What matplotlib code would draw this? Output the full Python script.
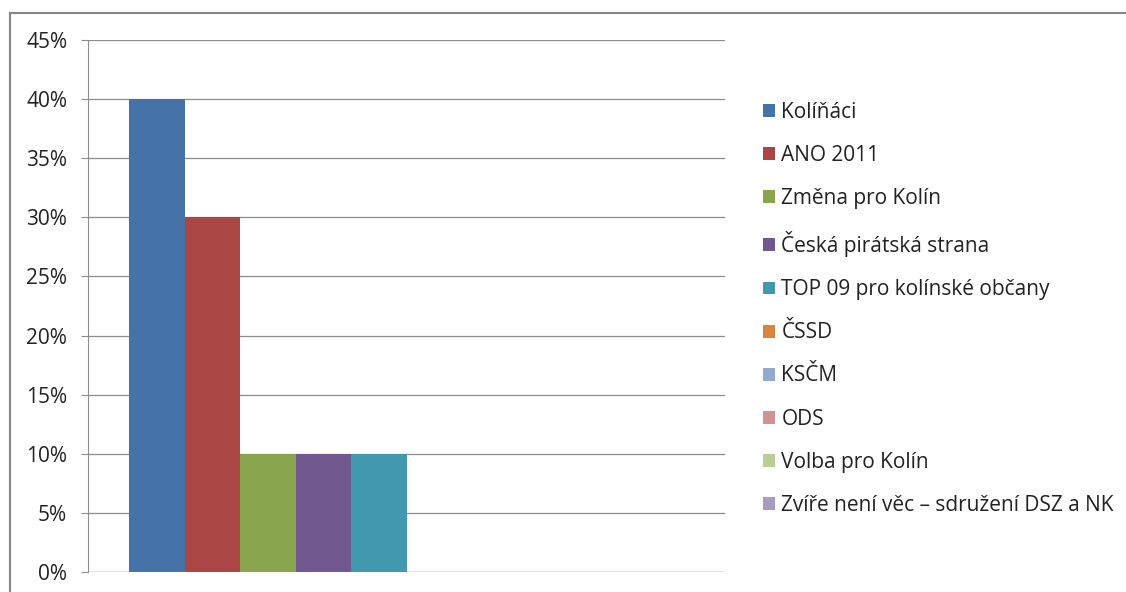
import matplotlib.pyplot as plt
from matplotlib.patches import Rectangle
from matplotlib.ticker import PercentFormatter

plt.rcParams['font.family'] = ['Open Sans', 'DejaVu Sans']

# data (share of seats/votes)
parties = ['Kolíňáci', 'ANO 2011', 'Změna pro Kolín', 'Česká pirátská strana',
           'TOP 09 pro kolínské občany', 'ČSSD', 'KSČM', 'ODS',
           'Volba pro Kolín', 'Zvíře není věc – sdružení DSZ a NK']
shares = [40, 30, 10, 10, 10, 0, 0, 0, 0, 0]
colors = ['#4572A7', '#AA4643', '#89A54E', '#71588F', '#4198AF',
          '#DB843D', '#93A9CF', '#D19392', '#B9CD96', '#A99BBD']

fig = plt.figure(figsize=(11.26, 5.92), dpi=100)
ax = fig.add_axes([88/1126, 20/592, 637/1126, 532/592])

n = len(parties)
w = 0.871 / n
for i, (p, v, c) in enumerate(zip(parties, shares, colors)):
    ax.bar(-0.4355 + w*(i + 0.5), v, width=w, color=c, label=p, zorder=3)

ax.set_xlim(-0.5, 0.5)
ax.set_ylim(0, 45)
ax.set_yticks(range(0, 46, 5))
ax.yaxis.set_major_formatter(PercentFormatter(decimals=0))
ax.set_xticks([])
ax.grid(axis='y', color='#8c8c8c', linewidth=0.9)
for s in ['top', 'right', 'bottom']:
    ax.spines[s].set_visible(False)
ax.spines['left'].set_color('#8c8c8c')
ax.axhline(0, color='#8c8c8c', linewidth=0.9, zorder=4)
ax.tick_params(axis='y', length=5, color='#8c8c8c', pad=10, labelsize=15,
               labelcolor='#222222')

leg = ax.legend(loc='upper left', bbox_to_anchor=(763/1126, 1 - 102/592),
                bbox_transform=fig.transFigure, frameon=False, fontsize=15,
                handlelength=0.58, handleheight=0.58, handletextpad=0.3,
                labelspacing=1.06, borderaxespad=0, borderpad=0)
for t in leg.get_texts():
    t.set_color('#222222')

# outer chart border (cropped at right and bottom)
fig.patches.append(Rectangle((9.5/1126, -0.1), 1.2, 1 - 12.5/592 + 0.1,
                             transform=fig.transFigure, fill=False,
                             edgecolor='#868686', linewidth=1.5))

fig.savefig('out.png', dpi=100)
